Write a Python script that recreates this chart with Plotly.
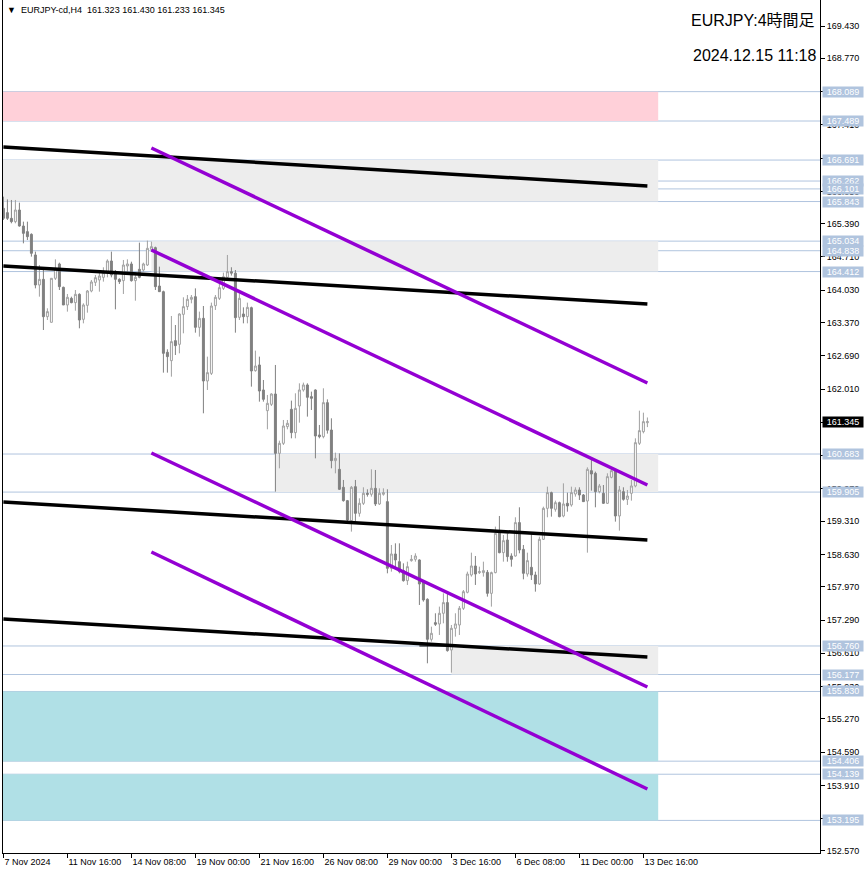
import plotly.graph_objects as go

# ---------------- data ----------------
opens = [165.704, 165.616, 165.500, 165.432, 165.670, 165.343, 165.228, 165.173, 164.751, 164.138,
         164.253, 163.490, 163.375, 164.274, 164.567, 164.090, 163.729, 163.865, 163.777, 163.947,
         163.436, 163.722, 164.015, 164.192, 164.240, 164.294, 164.410, 164.628, 164.376, 164.253,
         164.226, 164.526, 164.567, 164.226, 164.458, 164.444, 164.546, 164.866, 164.901, 164.117,
         164.001, 162.762, 162.591, 163.000, 162.925, 163.538, 163.695, 163.845, 163.899, 163.272,
         163.456, 162.176, 162.332, 163.715, 163.865, 164.069, 164.294, 164.410, 164.380, 163.477,
         163.545, 163.490, 163.674, 162.387, 162.503, 161.992, 161.569, 161.699, 161.910, 160.697,
         160.902, 161.242, 161.597, 161.120, 161.665, 161.992, 162.094, 161.856, 161.992, 161.072,
         161.038, 161.733, 161.174, 160.548, 160.370, 160.003, 159.730, 159.321, 160.016, 159.471,
         159.676, 159.880, 159.860, 159.982, 159.662, 159.860, 159.710, 158.347, 158.640, 158.483,
         158.300, 158.095, 158.504, 158.531, 158.518, 158.075, 157.714, 156.896, 157.237, 157.210,
         157.428, 157.646, 156.678, 157.121, 157.189, 157.530, 157.857, 158.211, 158.395, 158.259,
         158.259, 158.265, 157.836, 158.259, 159.076, 158.667, 158.926, 158.599, 158.599, 159.281,
         158.735, 158.231, 158.368, 158.211, 158.027, 158.940, 159.573, 159.894, 159.553, 159.689,
         159.417, 159.676, 159.642, 159.866, 159.948, 159.846, 159.723, 160.343, 160.289, 159.914,
         159.880, 159.676, 160.207, 160.357, 159.417, 159.914, 159.757, 159.880, 160.030, 160.902,
         161.140, 161.323]
highs = [165.943, 165.888, 165.875, 165.875, 165.820, 165.432, 165.432, 165.193, 164.819, 164.546,
         164.444, 163.661, 164.280, 164.662, 164.594, 164.104, 163.954, 163.899, 164.035, 163.967,
         163.763, 164.035, 164.240, 164.342, 164.410, 164.499, 164.662, 164.819, 164.444, 164.274,
         164.649, 164.662, 164.614, 164.390, 165.003, 164.594, 165.044, 165.023, 164.921, 164.512,
         164.022, 162.823, 163.504, 163.320, 163.559, 163.886, 163.933, 163.933, 164.069, 163.593,
         163.708, 162.673, 163.777, 163.933, 164.158, 164.390, 164.751, 164.500, 164.444, 163.967,
         163.681, 163.777, 163.695, 162.796, 162.673, 162.196, 161.890, 161.924, 162.503, 160.956,
         161.379, 161.379, 161.774, 161.924, 162.128, 162.142, 162.128, 161.958, 162.005, 161.277,
         162.026, 161.800, 161.413, 160.711, 160.697, 160.153, 159.744, 160.030, 160.153, 159.778,
         160.003, 159.962, 160.370, 160.357, 159.982, 159.982, 159.962, 158.824, 158.858, 158.858,
         158.449, 158.483, 158.620, 158.654, 158.531, 158.109, 157.734, 157.155, 157.428, 157.564,
         157.836, 157.836, 157.189, 157.428, 157.577, 157.904, 158.279, 158.667, 158.599, 158.381,
         158.483, 158.313, 158.279, 159.199, 159.417, 159.028, 159.063, 158.654, 159.390, 159.594,
         158.824, 158.667, 159.049, 158.279, 158.994, 159.607, 160.016, 159.914, 159.730, 159.710,
         160.084, 159.894, 160.016, 160.003, 160.003, 159.866, 160.411, 160.561, 160.323, 160.071,
         160.050, 160.289, 160.411, 160.370, 160.030, 160.003, 159.948, 160.153, 161.004, 161.569,
         161.528, 161.430]
lows = [165.466, 165.466, 165.398, 165.398, 165.330, 164.989, 165.057, 164.717, 164.069, 163.899,
        163.218, 163.422, 163.370, 164.240, 164.035, 163.729, 163.593, 163.763, 163.613, 163.252,
        163.354, 163.572, 163.988, 164.117, 164.001, 164.206, 164.294, 164.294, 163.640, 164.158,
        163.954, 164.376, 164.206, 163.817, 164.274, 164.410, 164.526, 164.819, 164.035, 164.001,
        162.346, 162.346, 162.264, 162.707, 162.741, 163.150, 163.627, 163.763, 163.163, 163.082,
        161.515, 161.992, 162.298, 163.627, 163.831, 164.035, 164.240, 164.330, 163.163, 163.422,
        163.354, 163.354, 162.060, 162.366, 161.753, 161.753, 161.188, 161.665, 159.914, 160.391,
        160.868, 161.188, 161.004, 161.004, 161.324, 161.958, 161.447, 161.583, 160.595, 161.004,
        161.004, 161.100, 160.391, 160.289, 159.948, 159.710, 159.267, 159.097, 159.301, 159.403,
        159.642, 159.812, 159.812, 159.621, 159.642, 159.832, 158.245, 158.279, 158.347, 158.245,
        158.075, 158.007, 158.483, 158.483, 157.598, 157.666, 156.406, 156.849, 157.169, 156.985,
        157.223, 156.644, 156.215, 156.951, 156.985, 157.496, 157.836, 158.177, 158.007, 158.231,
        158.177, 157.768, 157.564, 158.245, 158.654, 158.483, 158.483, 158.381, 158.586, 158.654,
        158.122, 158.177, 158.109, 157.870, 158.007, 158.926, 159.390, 159.403, 159.505, 159.390,
        159.390, 159.505, 159.607, 159.812, 159.744, 159.710, 158.667, 159.934, 159.594, 159.880,
        159.662, 159.662, 160.187, 159.301, 159.117, 159.730, 159.642, 159.730, 160.003, 160.868,
        161.106, 161.233]
closes = [165.500, 165.500, 165.432, 165.670, 165.343, 165.193, 165.125, 164.785, 164.138, 164.253,
          163.490, 163.593, 164.274, 164.478, 164.104, 163.729, 163.886, 163.777, 163.947, 163.422,
          163.729, 164.015, 164.199, 164.287, 164.321, 164.390, 164.628, 164.342, 164.253, 164.206,
          164.546, 164.567, 164.226, 164.294, 164.294, 164.567, 164.887, 164.921, 164.104, 164.001,
          162.741, 162.673, 162.980, 162.898, 163.545, 163.695, 163.845, 163.886, 163.272, 163.456,
          162.176, 162.346, 163.708, 163.886, 164.083, 164.308, 164.410, 164.380, 163.470, 163.865,
          163.490, 163.681, 162.380, 162.482, 161.971, 161.801, 161.719, 161.910, 160.697, 160.902,
          161.256, 161.311, 161.120, 161.617, 161.992, 162.094, 161.842, 161.822, 161.052, 161.038,
          161.733, 161.170, 160.548, 160.595, 159.962, 159.730, 159.335, 160.003, 159.471, 159.676,
          159.880, 159.860, 159.982, 159.662, 159.880, 159.894, 158.347, 158.640, 158.518, 158.279,
          158.095, 158.381, 158.531, 158.599, 158.027, 157.700, 156.896, 157.019, 157.203, 157.428,
          157.646, 156.665, 157.121, 157.210, 157.530, 157.870, 158.231, 158.395, 158.231, 158.279,
          158.300, 157.836, 158.259, 159.063, 158.667, 158.913, 158.586, 158.531, 159.281, 158.722,
          158.245, 158.504, 158.211, 158.027, 158.940, 159.573, 159.894, 159.573, 159.689, 159.403,
          159.662, 159.621, 159.894, 159.948, 159.846, 159.710, 160.370, 160.275, 159.914, 160.030,
          159.676, 160.221, 160.343, 159.417, 159.948, 159.757, 159.825, 160.030, 160.915, 161.161,
          161.345, 161.345]

x_tick_bars = [0, 16, 32, 48, 64, 80, 96, 112, 128, 144, 160]
x_tick_labels = ["7 Nov 2024", "11 Nov 16:00", "14 Nov 08:00", "19 Nov 00:00", "21 Nov 16:00",
                 "26 Nov 08:00", "29 Nov 00:00", "3 Dec 16:00", "6 Dec 08:00", "11 Dec 00:00",
                 "13 Dec 16:00"]

price_ticks = [169.430, 168.770, 168.090, 167.410, 166.730, 166.050, 165.390, 164.710, 164.030,
               163.370, 162.690, 162.010, 161.330, 160.650, 159.970, 159.310, 158.630, 157.970,
               157.290, 156.610, 155.930, 155.270, 154.590, 153.910, 153.230, 152.570]

levels = [168.089, 167.489, 166.691, 166.262, 166.101, 165.843, 165.034, 164.838, 164.412,
          160.683, 159.905, 156.760, 156.177, 155.830, 154.406, 154.139, 153.195]

zone_top = [168.089, 166.691, 165.034, 160.683, 156.760, 155.830, 154.139]
zone_bottom = [167.489, 165.843, 164.412, 159.905, 156.177, 154.406, 153.195]
zone_start_bar = [-5, -5, 37, 68, 112, -5, -5]
zone_end_bar = [163.7, 163.7, 163.7, 163.7, 163.7, 163.7, 163.7]
zone_kind = ["sell", "range", "range", "range", "range", "buy", "buy"]

black_start_bar = [0, 0, 0, 0]
black_end_bar = [161, 161, 161, 161]
black_start_price = [166.958, 164.526, 159.703, 157.311]
black_end_price = [166.161, 163.749, 158.926, 156.535]

purple_start_bar = [37, 37, 37, 37]
purple_end_bar = [161, 161, 161, 161]
purple_start_price = [166.938, 164.853, 160.704, 158.681]
purple_end_price = [162.135, 160.050, 155.922, 153.837]

seg_start_bar = [104]
seg_end_bar = [112]
seg_price = [156.760]

symbol = "EURJPY-cd,H4"
last_ohlc = [161.323, 161.430, 161.233, 161.345]
title_text = "EURJPY:4時間足"
stamp_text = "2024.12.15 11:18"

# ---------------- styles ----------------
zone_colors = {"sell": "#FFD0D9", "range": "#EDEDED", "buy": "#B0E0E6"}
level_color = "#B0C4DE"
tick_font = dict(family="Liberation Sans, Arial, sans-serif", size=9, color="#000000")

bars = list(range(len(opens)))

fig = go.Figure()
fig.add_trace(go.Candlestick(
    x=bars, open=opens, high=highs, low=lows, close=closes,
    increasing=dict(line=dict(color="#A0A0A0", width=1), fillcolor="#FFFFFF"),
    decreasing=dict(line=dict(color="#808080", width=1), fillcolor="#808080"),
    whiskerwidth=0, hoverinfo="skip", showlegend=False))

for i in range(len(black_start_bar)):
    fig.add_trace(go.Scatter(x=[black_start_bar[i], black_end_bar[i]],
                             y=[black_start_price[i], black_end_price[i]],
                             mode="lines", line=dict(color="#000000", width=3.5),
                             hoverinfo="skip", showlegend=False))
for i in range(len(purple_start_bar)):
    fig.add_trace(go.Scatter(x=[purple_start_bar[i], purple_end_bar[i]],
                             y=[purple_start_price[i], purple_end_price[i]],
                             mode="lines", line=dict(color="#9400D3", width=3.5),
                             hoverinfo="skip", showlegend=False))
for i in range(len(seg_start_bar)):
    fig.add_trace(go.Scatter(x=[seg_start_bar[i], seg_end_bar[i]],
                             y=[seg_price[i], seg_price[i]],
                             mode="lines", line=dict(color="#000000", width=1),
                             hoverinfo="skip", showlegend=False))

shapes = []
for i in range(len(zone_top)):
    shapes.append(dict(type="rect", xref="x", yref="y", x0=zone_start_bar[i], x1=zone_end_bar[i],
                       y0=zone_bottom[i], y1=zone_top[i], fillcolor=zone_colors[zone_kind[i]],
                       line=dict(width=0), layer="below"))
for lv in levels:
    shapes.append(dict(type="line", xref="paper", yref="y", x0=0, x1=1, y0=lv, y1=lv,
                       line=dict(color=level_color, width=1), layer="below"))

annotations = []
for lv in levels:
    annotations.append(dict(xref="paper", yref="y", x=1, y=lv, xanchor="left", yanchor="middle",
                            xshift=2, text=f"{lv:.3f}", showarrow=False,
                            font=dict(family=tick_font["family"], size=9, color="#FFFFFF"),
                            bgcolor=level_color, width=40, height=10, borderpad=0))
annotations.append(dict(xref="paper", yref="y", x=1, y=closes[-1], xanchor="left", yanchor="middle",
                        xshift=2, text=f"{closes[-1]:.3f}", showarrow=False,
                        font=dict(family=tick_font["family"], size=9, color="#FFFFFF"),
                        bgcolor="#000000", width=40, height=10, borderpad=0))
annotations.append(dict(xref="paper", yref="paper", x=0, y=1, xanchor="left", yanchor="middle",
                        xshift=2, yshift=-10, showarrow=False,
                        text="▼  " + symbol + "  " + " ".join(f"{v:.3f}" for v in last_ohlc),
                        font=dict(family=tick_font["family"], size=9, color="#000000")))
annotations.append(dict(xref="paper", yref="paper", x=1, y=1, xanchor="right", yanchor="middle",
                        xshift=-3, yshift=-20, showarrow=False, text=title_text,
                        font=dict(family="Liberation Sans, Noto Sans CJK JP, sans-serif", size=16,
                                  color="#000000")))
annotations.append(dict(xref="paper", yref="paper", x=1, y=1, xanchor="right", yanchor="middle",
                        xshift=-2, yshift=-55, showarrow=False, text=stamp_text,
                        font=dict(family="Liberation Sans, sans-serif", size=16, color="#000000")))

fig.update_layout(
    template="none",
    width=866, height=874,
    margin=dict(l=3, r=46, t=0, b=21, pad=0),
    paper_bgcolor="#FFFFFF", plot_bgcolor="#FFFFFF",
    shapes=shapes, annotations=annotations,
    showlegend=False,
    xaxis=dict(range=[-0.1, 204.15], tickmode="array", tickvals=x_tick_bars, ticktext=x_tick_labels,
               ticks="outside", ticklen=4, tickcolor="#000000", tickwidth=1,
               showline=True, linecolor="#000000", linewidth=1, mirror=False,
               showgrid=False, zeroline=False, automargin=False,
               ticklabelposition="outside right", tickfont=tick_font,
               rangeslider=dict(visible=False), fixedrange=True),
    yaxis=dict(side="right", range=[152.529, 169.962], tickmode="array", tickvals=price_ticks,
               ticktext=[f"{v:.3f}" for v in price_ticks],
               ticks="outside", ticklen=4, tickcolor="#000000", tickwidth=1,
               showline=True, linecolor="#000000", linewidth=1, mirror=True,
               showgrid=False, zeroline=False, automargin=False, tickfont=tick_font,
               fixedrange=True),
)

fig.write_html("out.html", config={"displayModeBar": False},
               post_script="document.body.style.margin='0';document.body.style.overflow='hidden';")
